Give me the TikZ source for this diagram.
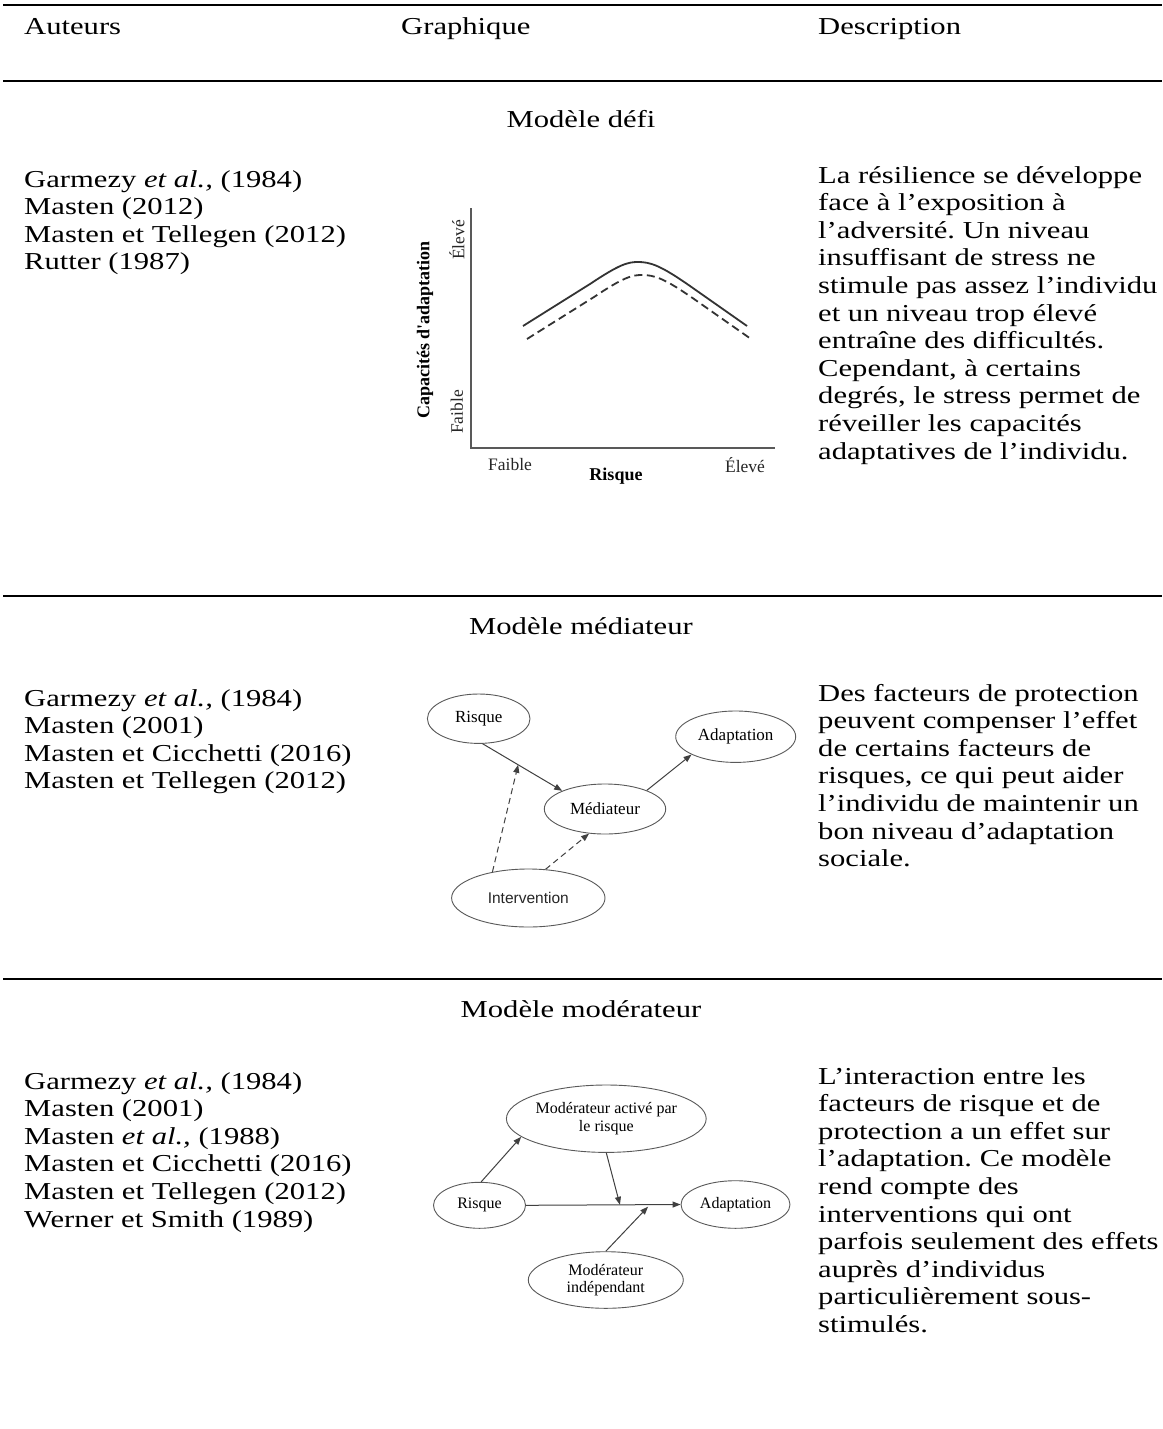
\documentclass[tikz,border=0pt]{standalone}
\usepackage{fontspec}
\setmainfont{Liberation Serif}[FakeStretch=1.26]
\newfontfamily\chartfont{Liberation Serif}
\newfontfamily\diagsans{Liberation Sans}
\usetikzlibrary{shapes.geometric,arrows.meta,calc}
\frenchspacing
\begin{document}
\begin{tikzpicture}[x=1pt,y=-1pt,
  maintext/.style={font=\fontsize{24.3}{27.6}\selectfont, inner sep=0pt},
  tablerule/.style={line width=2pt, black},
  charttext/.style={font=\chartfont\fontsize{17.5}{20}\selectfont, inner sep=0pt, text=black!85},
  chartbold/.style={font=\chartfont\bfseries\fontsize{18}{20}\selectfont, inner sep=0pt},
  axisline/.style={draw=black!65, line width=1.5pt},
  curve/.style={draw=black!80, line width=1.8pt},
  ell/.style={ellipse, draw=black!65, line width=0.9pt, inner sep=0pt},
  medtext/.style={font=\chartfont\fontsize{17}{19}\selectfont},
  modtext/.style={font=\chartfont\fontsize{16}{17.5}\selectfont, align=center},
  arr/.style={draw=black!75, line width=1pt, -{Triangle[length=8pt,width=6pt]}},
  darr/.style={arr, dash pattern=on 6pt off 4pt}
]
\useasboundingbox[fill=white] (0,0) rectangle (1162,1429);

% table rules
\coordinate (r1l) at (3,5);    \coordinate (r1r) at (1162,5);
\coordinate (r2l) at (3,81);   \coordinate (r2r) at (1162,81);
\coordinate (r3l) at (3,596);  \coordinate (r3r) at (1162,596);
\coordinate (r4l) at (3,979);  \coordinate (r4r) at (1162,979);
\draw[tablerule] (r1l) -- (r1r);
\draw[tablerule] (r2l) -- (r2r);
\draw[tablerule] (r3l) -- (r3r);
\draw[tablerule] (r4l) -- (r4r);

% header
\node[maintext, anchor=base west] (hA) at (24,35) {Auteurs};
\node[maintext, anchor=base west] (hG) at (401,35) {Graphique};
\node[maintext, anchor=base west] (hD) at (818,35) {Description};

% section titles
\node[maintext, anchor=base] (t1) at (581,127) {Modèle défi};
\node[maintext, anchor=base] (t2) at (581,634) {Modèle médiateur};
\node[maintext, anchor=base] (t3) at (581,1017) {Modèle modérateur};

% authors (anchored at the baseline of the last line)
\node[maintext, anchor=base west, align=left] (a1) at (24,269.8)
  {Garmezy \textit{et al.,} (1984)\\Masten (2012)\\Masten et Tellegen (2012)\\Rutter (1987)};
\node[maintext, anchor=base west, align=left] (a2) at (24,788.8)
  {Garmezy \textit{et al.,} (1984)\\Masten (2001)\\Masten et Cicchetti (2016)\\Masten et Tellegen (2012)};
\node[maintext, anchor=base west, align=left] (a3) at (24,1227)
  {Garmezy \textit{et al.,} (1984)\\Masten (2001)\\Masten \textit{et al.,} (1988)\\Masten et Cicchetti (2016)\\Masten et Tellegen (2012)\\Werner et Smith (1989)};

% descriptions (anchored at the baseline of the last line)
\node[maintext, anchor=base west, align=left] (d1) at (818,459)
  {La résilience se développe\\face à l’exposition à\\l’adversité. Un niveau\\insuffisant de stress ne\\stimule pas assez l’individu\\et un niveau trop élevé\\entraîne des difficultés.\\Cependant, à certains\\degrés, le stress permet de\\réveiller les capacités\\adaptatives de l’individu.};
\node[maintext, anchor=base west, align=left] (d2) at (818,866.6)
  {Des facteurs de protection\\peuvent compenser l’effet\\de certains facteurs de\\risques, ce qui peut aider\\l’individu de maintenir un\\bon niveau d’adaptation\\sociale.};
\node[maintext, anchor=base west, align=left] (d3) at (818,1332.4)
  {L’interaction entre les\\facteurs de risque et de\\protection a un effet sur\\l’adaptation. Ce modèle\\rend compte des\\interventions qui ont\\parfois seulement des effets\\auprès d’individus\\particulièrement sous-\\stimulés.};

% ---- chart (Modèle défi)
\coordinate (ytop) at (471,208);
\coordinate (orig) at (471,448);
\coordinate (xend) at (775,448);
\draw[axisline] (ytop) -- (orig) -- (xend);
\draw[curve] (523,326) -- (590,284) .. controls (620,264) and (628,262) .. (638,262)
  .. controls (650,262) and (660,265) .. (690,286) -- (747,326);
\draw[curve, dash pattern=on 8pt off 4.5pt] (527,339) -- (594,297) .. controls (624,277) and (632,275) .. (642,275)
  .. controls (654,275) and (664,278) .. (694,299) -- (751,339);
\node[chartbold, rotate=90] (ylab) at (425,330) {Capacités d'adaptation};
\node[charttext, rotate=90] (yhigh) at (457,240) {Élevé};
\node[charttext, rotate=90] (ylow) at (457,412) {Faible};
\node[charttext] (xlow) at (510,465) {Faible};
\node[charttext] (xhigh) at (745,465) {Élevé};
\node[chartbold] (xlab) at (616,476) {Risque};

% ---- mediator diagram
\node[ell, medtext, minimum width=102.6pt, minimum height=49.4pt] (risk1) at (478.7,718.7) {Risque};
\node[ell, medtext, minimum width=120pt, minimum height=51.4pt] (adap1) at (735.7,736.7) {Adaptation};
\node[ell, medtext, minimum width=121.4pt, minimum height=50pt] (med) at (605,809) {Médiateur};
\node[ell, font=\diagsans\fontsize{15.5}{18}\selectfont, text=black!85, minimum width=153.4pt, minimum height=58pt] (interv) at (528.3,898) {Intervention};
\draw[arr] (risk1.-81) -- (med.157);
\draw[arr] (med.24) -- (adap1.202);
\coordinate (m1) at ($(risk1.-81)!0.446!(med.157)$);
\draw[darr] (interv.144) -- (m1);
\draw[darr] (interv.59) -- (med.-123);

% ---- moderator diagram
\node[ell, modtext, minimum width=162.6pt, minimum height=67.4pt] (modact) at (606.3,1118.7) {Modérateur activé par\\le risque};
\node[ell, modtext, minimum width=92pt, minimum height=46pt] (risk2) at (479.5,1205.3) {Risque};
\node[ell, modtext, minimum width=109pt, minimum height=47.6pt] (adap2) at (735.5,1204.5) {Adaptation};
\node[ell, modtext, minimum width=155pt, minimum height=56.6pt] (modind) at (605.8,1280) {Modérateur\\indépendant};
\draw[arr] (risk2.east) -- (adap2.west);
\draw[arr] (risk2.86) -- (modact.192);
\coordinate (c1) at ($(risk2.east)!0.608!(adap2.west)$);
\coordinate (c2) at ($($(risk2.east)!0.79!(adap2.west)$)+(0,2)$);
\draw[arr] (modact.south) -- (c1);
\draw[arr] (modind.north) -- (c2);
\end{tikzpicture}
\end{document}
